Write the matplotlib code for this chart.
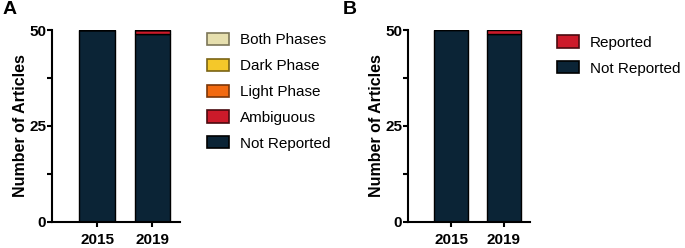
import matplotlib
matplotlib.use("Agg")
import matplotlib.pyplot as plt
from matplotlib.patches import Patch

plt.rcParams['font.family'] = ['Liberation Sans', 'DejaVu Sans']

years = ["2015", "2019"]

# panel A: light/dark phase categories (bottom to top)
cats_a = ["Not Reported", "Ambiguous", "Light Phase", "Dark Phase", "Both Phases"]
vals_a = {
    "Not Reported": [50, 49],
    "Ambiguous": [0, 1],
    "Light Phase": [0, 0],
    "Dark Phase": [0, 0],
    "Both Phases": [0, 0],
}

# panel B
cats_b = ["Not Reported", "Reported"]
vals_b = {
    "Not Reported": [50, 49],
    "Reported": [0, 1],
}

colors = {
    "Not Reported": ("#0b2436", "#000000"),
    "Ambiguous": ("#cc1a2a", "#4a0a0f"),
    "Reported": ("#cc1a2a", "#4a0a0f"),
    "Light Phase": ("#f26a10", "#7a3608"),
    "Dark Phase": ("#f4c82a", "#7a6414"),
    "Both Phases": ("#e6dfae", "#7c7658"),
}

fig = plt.figure(figsize=(6.85, 2.48), dpi=100)
axA = fig.add_axes([0.0759, 0.105, 0.187, 0.774])
axB = fig.add_axes([0.5956, 0.105, 0.178, 0.774])


def draw(ax, cats, vals, legend_x, legend_y):
    x = list(range(len(years)))
    bottom = [0] * len(years)
    for c in cats:
        v = vals[c]
        fc, ec = colors[c]
        ax.bar(x, v, bottom=bottom, width=0.65, color=fc, edgecolor="black", linewidth=1.0)
        bottom = [b + vi for b, vi in zip(bottom, v)]
    ax.set_ylim(0, 50)
    ax.set_xlim(-0.82, 1.5)
    ax.set_yticks([0, 25, 50])
    ax.set_yticks([12.5, 37.5], minor=True)
    ax.set_xticks(x)
    ax.set_xticklabels(years, fontweight="bold", fontsize=11)
    for lab in ax.get_yticklabels():
        lab.set_fontweight("bold")
        lab.set_fontsize(11)
    ax.tick_params(axis="both", which="major", length=3.8, width=1.5)
    ax.tick_params(axis="y", which="major", pad=0.5)
    ax.tick_params(axis="x", which="major", pad=4)
    ax.tick_params(axis="y", which="minor", length=3.8, width=1.5)
    ax.spines["top"].set_visible(False)
    ax.spines["right"].set_visible(False)
    ax.spines["left"].set_linewidth(1.5)
    ax.spines["bottom"].set_linewidth(1.5)
    ax.set_ylabel("Number of Articles", fontweight="bold", fontsize=11.5, labelpad=1)
    handles = [Patch(facecolor=colors[c][0], edgecolor=colors[c][1], linewidth=1.2, label=c)
               for c in reversed(cats)]
    fig.legend(handles=handles, loc="upper left", bbox_to_anchor=(legend_x, legend_y),
               frameon=False, fontsize=11, handlelength=1.45, handleheight=0.85,
               handletextpad=0.7, labelspacing=0.75, borderaxespad=0)


draw(axA, cats_a, vals_a, 0.293, 0.892)
draw(axB, cats_b, vals_b, 0.804, 0.882)

fig.text(0.003, 0.995, "A", fontsize=14, fontweight="bold", va="top")
fig.text(0.5, 0.995, "B", fontsize=14, fontweight="bold", va="top")

fig.savefig("out.png", dpi=100)
